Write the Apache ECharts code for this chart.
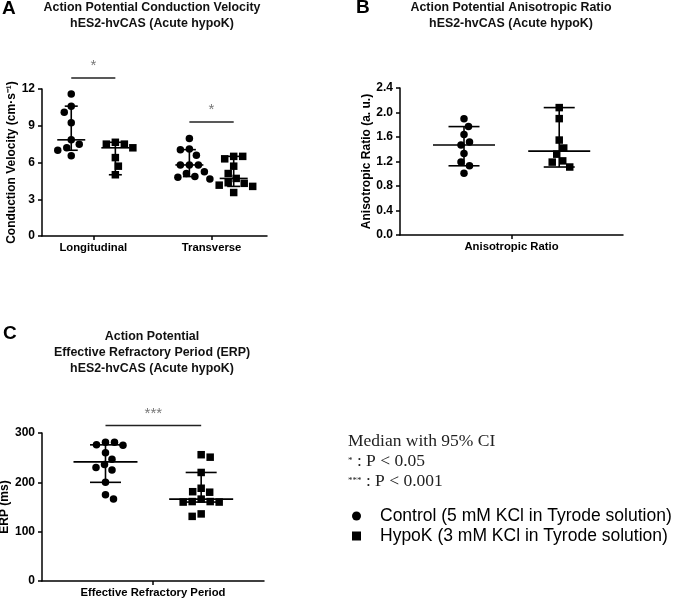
<!DOCTYPE html>
<html>
<head>
<meta charset="utf-8">
<script src="https://cdn.jsdelivr.net/npm/echarts@6/dist/echarts.min.js"></script>
<style>
  html, body { margin: 0; padding: 0; background: #fff; }
  #main { width: 674px; height: 601px; }
</style>
</head>
<body>
<div id="main"></div>
<script>
  const CTRL = 'Control (5 mM KCl in Tyrode solution)';
  const HYPO = 'HypoK (3 mM KCl in Tyrode solution)';

  // ---- A: conduction velocity (cm/s) ----
  const cvCategories = ['Longitudinal', 'Transverse'];
  const cvLongControl = [11.6, 10.6, 10.1, 9.25, 7.85, 7.5, 7.2, 7.0, 6.55];
  const cvLongHypoK = [7.65, 7.5, 7.5, 7.2, 6.4, 5.7, 5.0];
  const cvTransControl = [7.95, 7.1, 7.05, 6.6, 5.8, 5.8, 5.8, 5.25, 5.1, 4.85, 4.8, 4.65];
  const cvTransHypoK = [6.5, 6.5, 6.3, 5.7, 5.1, 4.7, 4.35, 4.3, 4.15, 4.05, 3.55];
  // order: long ctrl, long hypoK, trans ctrl, trans hypoK
  const cvMedian = [7.85, 7.2, 5.8, 4.7];
  const cvCiLow = [7.0, 5.0, 4.85, 4.05];
  const cvCiHigh = [10.6, 7.65, 7.05, 6.5];

  // ---- B: anisotropic ratio (a.u.) ----
  const arCategories = ['Anisotropic Ratio'];
  const arControl = [1.90, 1.77, 1.64, 1.52, 1.47, 1.33, 1.19, 1.13, 1.01];
  const arHypoK = [2.08, 1.90, 1.55, 1.42, 1.32, 1.21, 1.19, 1.11];
  const arMedian = [1.47, 1.37];
  const arCiLow = [1.13, 1.11];
  const arCiHigh = [1.77, 2.08];

  // ---- C: effective refractory period (ms) ----
  const erpCategories = ['Effective Refractory Period'];
  const erpControl = [281, 281, 276, 275, 260, 247, 236, 230, 225, 200, 175, 166];
  const erpHypoK = [256, 251, 220, 188, 181, 180, 166, 161, 161, 160, 160, 136, 131];
  const erpMedian = [241.5, 166];
  const erpCiLow = [200, 160];
  const erpCiHigh = [276, 220];

  // ---- layout ----
  const grids = [
    { left: 42, top: 89, width: 225, height: 147 },
    { left: 400, top: 88, width: 223, height: 147 },
    { left: 42, top: 433, width: 222, height: 148 }
  ];
  const yMax = [12, 2.4, 300];
  // group centres on a 0..100 x scale
  const posA = [13, 32.6, 65.5, 85.2];
  const posB = [28.7, 71.4];
  const posC = [28.6, 71.7];
  // significance bars: [from, to, height in data units]
  const sigA = [[posA[0], posA[1], 12.9], [posA[2], posA[3], 9.3]];
  const sigALabels = ['*', '*'];
  const sigC = [[posC[0], posC[1], 315]];
  const sigCLabels = ['***'];

  const FONT = '"Liberation Sans", Arial, sans-serif';
  const SERIF = '"Liberation Serif", "Times New Roman", serif';
  const BLACK = '#000';

  // place points so they don't overlap (simple beeswarm)
  function swarm(values, center, gi) {
    const D = 9;
    const ys = grids[gi].height / yMax[gi];
    const xs = grids[gi].width / 100;
    const placed = [];
    return values.map(function (v, i) {
      const y = v * ys;
      const pref = i % 2 ? 1 : -1;
      let chosen = 0;
      for (let k = 0; k < 400; k++) {
        const mag = Math.ceil(k / 2) * 0.5;
        const dx = (k % 2 === 1 ? pref : -pref) * mag;
        if (placed.every(p => (p[0] - dx) * (p[0] - dx) + (p[1] - y) * (p[1] - y) >= D * D)) {
          chosen = dx;
          break;
        }
      }
      placed.push([chosen, y]);
      return [center + chosen / xs, v];
    });
  }

  function xAxisFor(gi, ticks, names) {
    return {
      type: 'value', gridIndex: gi, min: 0, max: 100,
      axisLine: { show: true, lineStyle: { color: BLACK, width: 1.5 } },
      axisTick: { show: true, customValues: ticks, length: 4, lineStyle: { color: BLACK, width: 1.5 } },
      axisLabel: {
        customValues: ticks, margin: 6, color: BLACK, fontSize: 11.3, fontWeight: 'bold', fontFamily: FONT,
        formatter: function (v) {
          let best = 0;
          ticks.forEach((t, i) => { if (Math.abs(t - v) < Math.abs(ticks[best] - v)) best = i; });
          return names[best];
        }
      },
      splitLine: { show: false }
    };
  }

  function yAxisFor(gi, step, name, gap, fmt) {
    return {
      type: 'value', gridIndex: gi, min: 0, max: yMax[gi], interval: step,
      name: name, nameLocation: 'middle', nameGap: gap, nameRotate: 90,
      nameTextStyle: { fontSize: 12, fontWeight: 'bold', color: BLACK, fontFamily: FONT },
      axisLine: { show: true, lineStyle: { color: BLACK, width: 1.5 } },
      axisTick: { show: true, length: 4, lineStyle: { color: BLACK, width: 1.5 } },
      axisLabel: { margin: 7, color: BLACK, fontSize: 12, fontWeight: 'bold', fontFamily: FONT, formatter: fmt },
      splitLine: { show: false }
    };
  }

  function scatter(name, gi, data, symbol) {
    return {
      name: name, type: 'scatter', xAxisIndex: gi, yAxisIndex: gi,
      symbol: symbol, symbolSize: 7.5, data: data,
      itemStyle: { color: BLACK, opacity: 1 }, z: 3
    };
  }

  function ciSeries(gi, pos, med, lo, hi, halfMed, halfCap) {
    return {
      type: 'custom', xAxisIndex: gi, yAxisIndex: gi, z: 4,
      encode: { x: 0, y: [1, 2, 3] },
      data: pos.map((p, i) => [p, med[i], lo[i], hi[i]]),
      renderItem: function (params, api) {
        const x = api.value(0);
        const m = api.coord([x, api.value(1)]);
        const l = api.coord([x, api.value(2)]);
        const h = api.coord([x, api.value(3)]);
        const st = { stroke: BLACK, lineWidth: 1.6 };
        const seg = (x1, y1, x2, y2) => ({ type: 'line', shape: { x1, y1, x2, y2 }, style: st });
        return {
          type: 'group', children: [
            seg(m[0] - halfMed, m[1], m[0] + halfMed, m[1]),
            seg(h[0], h[1], l[0], l[1]),
            seg(h[0] - halfCap, h[1], h[0] + halfCap, h[1]),
            seg(l[0] - halfCap, l[1], l[0] + halfCap, l[1])
          ]
        };
      }
    };
  }

  function sigSeries(gi, bars, labels) {
    return {
      type: 'custom', xAxisIndex: gi, yAxisIndex: gi, clip: false,
      encode: { x: [0, 1], y: 2 },
      data: bars,
      renderItem: function (params, api) {
        const a = api.coord([api.value(0), api.value(2)]);
        const b = api.coord([api.value(1), api.value(2)]);
        return {
          type: 'group', children: [
            { type: 'line', shape: { x1: a[0], y1: a[1], x2: b[0], y2: b[1] }, style: { stroke: '#222', lineWidth: 1.5 } },
            {
              type: 'text', x: (a[0] + b[0]) / 2, y: a[1] - 12,
              style: { text: labels[params.dataIndex], fill: '#777', fontSize: 15, fontFamily: FONT, align: 'center', verticalAlign: 'middle' }
            }
          ]
        };
      }
    };
  }

  const titleStyle = { fontSize: 12.4, fontWeight: 'bold', color: '#111', fontFamily: FONT, lineHeight: 16.5 };

  const option = {
    animation: false,
    backgroundColor: '#fff',
    textStyle: { fontFamily: FONT },
    title: [
      { text: 'Action Potential Conduction Velocity\nhES2-hvCAS (Acute hypoK)', left: 152, top: -1, textAlign: 'center', padding: 0, textStyle: titleStyle },
      { text: 'Action Potential Anisotropic Ratio\nhES2-hvCAS (Acute hypoK)', left: 511, top: -1, textAlign: 'center', padding: 0, textStyle: titleStyle },
      { text: 'Action Potential\nEffective Refractory Period (ERP)\nhES2-hvCAS (Acute hypoK)', left: 152, top: 329, textAlign: 'center', padding: 0, textStyle: Object.assign({}, titleStyle, { lineHeight: 16 }) }
    ],
    legend: {
      orient: 'vertical', left: 347, top: 502, itemGap: 2, itemWidth: 9, itemHeight: 9,
      selectedMode: false,
      data: [{ name: CTRL, icon: 'circle' }, { name: HYPO, icon: 'rect' }],
      textStyle: { fontSize: 17.5, color: BLACK, fontFamily: FONT, padding: [0, 0, 0, 14] }
    },
    graphic: [
      { type: 'text', x: 2, y: 9, style: { text: 'A', fontSize: 19, fontWeight: 'bold', fontFamily: FONT, fill: BLACK, verticalAlign: 'middle' } },
      { type: 'text', x: 356, y: 8, style: { text: 'B', fontSize: 19, fontWeight: 'bold', fontFamily: FONT, fill: BLACK, verticalAlign: 'middle' } },
      { type: 'text', x: 3, y: 334, style: { text: 'C', fontSize: 19, fontWeight: 'bold', fontFamily: FONT, fill: BLACK, verticalAlign: 'middle' } },
      { type: 'text', x: 348, y: 441, style: { text: 'Median with 95% CI', fontSize: 17.5, fontFamily: SERIF, fill: '#222', verticalAlign: 'middle' } },
      {
        type: 'text', x: 348, y: 461,
        style: {
          text: '{s|*} : P < 0.05', fontSize: 17.5, fontFamily: SERIF, fill: '#222', verticalAlign: 'middle',
          rich: { s: { fontSize: 9, fontFamily: SERIF, fill: '#222' } }
        }
      },
      {
        type: 'text', x: 348, y: 481,
        style: {
          text: '{s|***} : P < 0.001', fontSize: 17.5, fontFamily: SERIF, fill: '#222', verticalAlign: 'middle',
          rich: { s: { fontSize: 9, fontFamily: SERIF, fill: '#222' } }
        }
      }
    ],
    grid: grids.map(g => Object.assign({ outerBoundsMode: 'none', containLabel: false }, g)),
    xAxis: [
      xAxisFor(0, [(posA[0] + posA[1]) / 2, (posA[2] + posA[3]) / 2], cvCategories),
      xAxisFor(1, [50], arCategories),
      xAxisFor(2, [50], erpCategories)
    ],
    yAxis: [
      yAxisFor(0, 3, 'Conduction Velocity (cm·s⁻¹)', 22),
      yAxisFor(1, 0.4, 'Anisotropic Ratio (a. u.)', 27, v => v.toFixed(1)),
      yAxisFor(2, 100, 'ERP (ms)', 28)
    ],
    series: [
      scatter(CTRL, 0, swarm(cvLongControl, posA[0], 0).concat(swarm(cvTransControl, posA[2], 0)), 'circle'),
      scatter(HYPO, 0, swarm(cvLongHypoK, posA[1], 0).concat(swarm(cvTransHypoK, posA[3], 0)), 'rect'),
      ciSeries(0, posA, cvMedian, cvCiLow, cvCiHigh, 14, 6.5),
      sigSeries(0, sigA, sigALabels),

      scatter(CTRL, 1, swarm(arControl, posB[0], 1), 'circle'),
      scatter(HYPO, 1, swarm(arHypoK, posB[1], 1), 'rect'),
      ciSeries(1, posB, arMedian, arCiLow, arCiHigh, 31, 15.5),

      scatter(CTRL, 2, swarm(erpControl, posC[0], 2), 'circle'),
      scatter(HYPO, 2, swarm(erpHypoK, posC[1], 2), 'rect'),
      ciSeries(2, posC, erpMedian, erpCiLow, erpCiHigh, 32, 15.5),
      sigSeries(2, sigC, sigCLabels)
    ]
  };

  const chart = echarts.init(document.getElementById('main'));
  chart.setOption(option);
</script>
</body>
</html>
